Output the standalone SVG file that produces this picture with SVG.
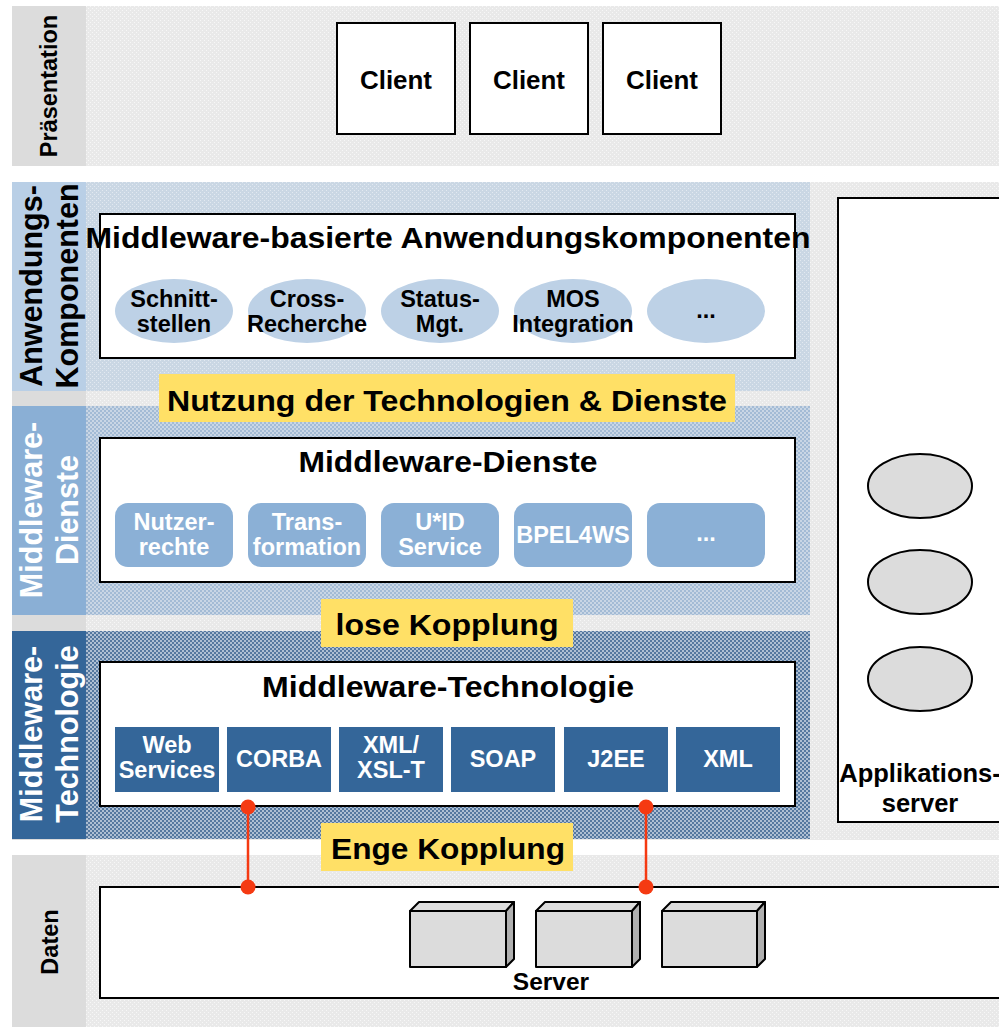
<svg xmlns="http://www.w3.org/2000/svg" width="999" height="1027" viewBox="0 0 999 1027">
<style>
text{font-family:"Liberation Sans",Arial,sans-serif;font-weight:bold;text-anchor:middle}
.box{fill:#ffffff;stroke:#000000;stroke-width:2}
.t-big{font-size:29px;fill:#000}
.t-mid{font-size:23.5px;fill:#000}
.t-w{font-size:23.5px;fill:#ffffff}
.ell{fill:#bdd1e6}
.dsv{fill:#8bb0d6}
.tec{fill:#346699}
.yel{fill:#ffe066}
.srvf{fill:#dcdcdc;stroke:#000;stroke-width:2;stroke-linejoin:round}
.srvs{fill:#b0b0b0;stroke:#000;stroke-width:2;stroke-linejoin:round}
.appell{fill:#dcdcdc;stroke:#000;stroke-width:2}
.red{stroke:#f53a12;stroke-width:2.5;fill:none}
.dot{fill:#f53a12}
.vl{font-size:30.5px}
</style>
<defs>
<pattern id="pGray" width="4" height="4" patternUnits="userSpaceOnUse">
<rect width="4" height="4" fill="#e9e9e9"/><rect width="1" height="1" fill="#f7f7f7"/><rect x="2" y="2" width="1" height="1" fill="#f7f7f7"/>
</pattern>
<pattern id="pAnw" width="4" height="4" patternUnits="userSpaceOnUse">
<rect width="4" height="4" fill="#cad7e4"/><rect width="1" height="1" fill="#e2e9f1"/><rect x="2" y="2" width="1" height="1" fill="#e2e9f1"/>
</pattern>
<pattern id="pDie" width="4" height="4" patternUnits="userSpaceOnUse">
<rect width="4" height="4" fill="#a3bbd5"/><rect width="2" height="2" fill="#c9d6e5"/><rect x="2" y="2" width="2" height="2" fill="#c9d6e5"/>
</pattern>
<pattern id="pTec" width="4" height="4" patternUnits="userSpaceOnUse">
<rect width="4" height="4" fill="#55789f"/><rect width="2" height="2" fill="#aebfd3"/><rect x="2" y="2" width="2" height="2" fill="#aebfd3"/>
</pattern>
</defs>
<rect width="999" height="1027" fill="#ffffff"/>

<g id="band-praesentation">
<rect x="12" y="6" width="987" height="160" fill="url(#pGray)"/>
<rect x="12" y="6" width="74" height="160" fill="#dcdcdc"/>
<text transform="translate(57,86) rotate(-90)" font-size="23.5">Präsentation</text>
</g>

<g id="band-middle-bg">
<rect x="12" y="182" width="987" height="658" fill="url(#pGray)"/>
<rect x="12" y="182" width="74" height="658" fill="#dcdcdc"/>
</g>

<g id="band-anwendung">
<rect x="86" y="182" width="724" height="209" fill="url(#pAnw)"/>
<rect x="12" y="182" width="74" height="209" fill="#b9cfe6"/>
<text class="vl" transform="translate(42,286) rotate(-90)" fill="#000">Anwendungs-</text>
<text class="vl" transform="translate(78,286) rotate(-90)" fill="#000">Komponenten</text>
</g>

<g id="band-dienste">
<rect x="86" y="406" width="724" height="209" fill="url(#pDie)"/>
<rect x="12" y="406" width="74" height="209" fill="#8aafd5"/>
<text class="vl" transform="translate(42,510) rotate(-90)" fill="#fff">Middleware-</text>
<text class="vl" transform="translate(78,510) rotate(-90)" fill="#fff">Dienste</text>
</g>

<g id="band-technologie">
<rect x="86" y="631" width="724" height="208" fill="url(#pTec)"/>
<rect x="12" y="631" width="74" height="208" fill="#346699"/>
<text class="vl" transform="translate(42,734) rotate(-90)" fill="#fff">Middleware-</text>
<text class="vl" transform="translate(78,734) rotate(-90)" fill="#fff">Technologie</text>
</g>

<g id="band-daten">
<rect x="12" y="855" width="987" height="172" fill="url(#pGray)"/>
<rect x="12" y="855" width="74" height="172" fill="#dcdcdc"/>
<text transform="translate(58,942) rotate(-90)" font-size="23.5">Daten</text>
</g>

<g id="clients">
<g id="client-1"><rect class="box" x="337" y="23" width="118" height="111"/><text x="396" y="89" font-size="25" textLength="72" lengthAdjust="spacingAndGlyphs">Client</text></g>
<g id="client-2"><rect class="box" x="470" y="23" width="118" height="111"/><text x="529" y="89" font-size="25" textLength="72" lengthAdjust="spacingAndGlyphs">Client</text></g>
<g id="client-3"><rect class="box" x="603" y="23" width="118" height="111"/><text x="662" y="89" font-size="25" textLength="72" lengthAdjust="spacingAndGlyphs">Client</text></g>
</g>

<g id="anwendungskomponenten">
<rect class="box" x="100" y="214" width="695" height="144"/>
<text class="t-big" x="448" y="248" textLength="725" lengthAdjust="spacingAndGlyphs">Middleware-basierte Anwendungskomponenten</text>
<g id="ak-schnittstellen"><ellipse class="ell" cx="174" cy="311" rx="59" ry="32"/><text class="t-mid" x="174" y="307">Schnitt-</text><text class="t-mid" x="174" y="332">stellen</text></g>
<g id="ak-cross"><ellipse class="ell" cx="307" cy="311" rx="59" ry="32"/><text class="t-mid" x="307" y="307">Cross-</text><text class="t-mid" x="307" y="332">Recherche</text></g>
<g id="ak-status"><ellipse class="ell" cx="440" cy="311" rx="59" ry="32"/><text class="t-mid" x="440" y="307">Status-</text><text class="t-mid" x="440" y="332">Mgt.</text></g>
<g id="ak-mos"><ellipse class="ell" cx="573" cy="311" rx="59" ry="32"/><text class="t-mid" x="573" y="307">MOS</text><text class="t-mid" x="573" y="332">Integration</text></g>
<g id="ak-more"><ellipse class="ell" cx="706" cy="311" rx="59" ry="32"/><text class="t-mid" x="706" y="318">...</text></g>
</g>

<g id="label-nutzung">
<rect class="yel" x="159" y="374" width="576" height="48"/>
<text class="t-big" x="447" y="411" textLength="560" lengthAdjust="spacingAndGlyphs">Nutzung der Technologien &amp; Dienste</text>
</g>

<g id="middleware-dienste">
<rect class="box" x="100" y="438" width="695" height="144"/>
<text class="t-big" x="448" y="472" textLength="299" lengthAdjust="spacingAndGlyphs">Middleware-Dienste</text>
<g id="md-nutzer"><rect class="dsv" x="115" y="503" width="118" height="64" rx="13"/><text class="t-w" x="174" y="530">Nutzer-</text><text class="t-w" x="174" y="555">rechte</text></g>
<g id="md-trans"><rect class="dsv" x="248" y="503" width="118" height="64" rx="13"/><text class="t-w" x="307" y="530">Trans-</text><text class="t-w" x="307" y="555">formation</text></g>
<g id="md-uid"><rect class="dsv" x="381" y="503" width="118" height="64" rx="13"/><text class="t-w" x="440" y="530">U*ID</text><text class="t-w" x="440" y="555">Service</text></g>
<g id="md-bpel"><rect class="dsv" x="514" y="503" width="118" height="64" rx="13"/><text class="t-w" x="573" y="543">BPEL4WS</text></g>
<g id="md-more"><rect class="dsv" x="647" y="503" width="118" height="64" rx="13"/><text class="t-w" x="706" y="541">...</text></g>
</g>

<g id="label-lose">
<rect class="yel" x="321" y="599" width="252" height="48"/>
<text class="t-big" x="447" y="635" textLength="223" lengthAdjust="spacingAndGlyphs">lose Kopplung</text>
</g>

<g id="middleware-technologie">
<rect class="box" x="100" y="662" width="695" height="144"/>
<text class="t-big" x="448" y="697" textLength="372" lengthAdjust="spacingAndGlyphs">Middleware-Technologie</text>
<g id="mt-web"><rect class="tec" x="115" y="727" width="104" height="65"/><text class="t-w" x="167" y="753">Web</text><text class="t-w" x="167" y="778">Services</text></g>
<g id="mt-corba"><rect class="tec" x="227" y="727" width="104" height="65"/><text class="t-w" x="279" y="767">CORBA</text></g>
<g id="mt-xsl"><rect class="tec" x="339" y="727" width="104" height="65"/><text class="t-w" x="391" y="753">XML/</text><text class="t-w" x="391" y="778">XSL-T</text></g>
<g id="mt-soap"><rect class="tec" x="451" y="727" width="104" height="65"/><text class="t-w" x="503" y="767">SOAP</text></g>
<g id="mt-j2ee"><rect class="tec" x="564" y="727" width="104" height="65"/><text class="t-w" x="616" y="767">J2EE</text></g>
<g id="mt-xml"><rect class="tec" x="676" y="727" width="104" height="65"/><text class="t-w" x="728" y="767">XML</text></g>
</g>

<g id="label-enge">
<rect class="yel" x="321" y="823" width="252" height="48"/>
<text class="t-big" x="448" y="859" textLength="234" lengthAdjust="spacingAndGlyphs">Enge Kopplung</text>
</g>

<g id="applikationsserver">
<rect class="box" x="838" y="198" width="175" height="624"/>
<ellipse class="appell" cx="920" cy="486" rx="52" ry="32"/>
<ellipse class="appell" cx="920" cy="582" rx="52" ry="32"/>
<ellipse class="appell" cx="920" cy="679" rx="52" ry="32"/>
<text x="920" y="782" font-size="25.5">Applikations-</text>
<text x="920" y="812" font-size="25.5">server</text>
</g>

<g id="server">
<rect class="box" x="100" y="887" width="915" height="111"/>
<g id="server-1">
<rect class="srvf" x="410" y="911" width="96" height="56"/>
<polygon class="srvf" points="410,911 419,902 514,902 506,911"/>
<polygon class="srvs" points="506,911 514,902 514,959 506,967"/>
</g>
<g id="server-2">
<rect class="srvf" x="536" y="911" width="96" height="56"/>
<polygon class="srvf" points="536,911 545,902 640,902 632,911"/>
<polygon class="srvs" points="632,911 640,902 640,959 632,967"/>
</g>
<g id="server-3">
<rect class="srvf" x="662" y="911" width="95" height="56"/>
<polygon class="srvf" points="662,911 671,902 765,902 757,911"/>
<polygon class="srvs" points="757,911 765,902 765,959 757,967"/>
</g>
<text x="551" y="990" font-size="24.5">Server</text>
</g>

<g id="connectors">
<line class="red" x1="248" y1="807" x2="248" y2="887"/>
<circle class="dot" cx="248" cy="807" r="7.5"/>
<circle class="dot" cx="248" cy="887" r="7.5"/>
<line class="red" x1="646" y1="807" x2="646" y2="887"/>
<circle class="dot" cx="646" cy="807" r="7.5"/>
<circle class="dot" cx="646" cy="887" r="7.5"/>
</g>
</svg>
